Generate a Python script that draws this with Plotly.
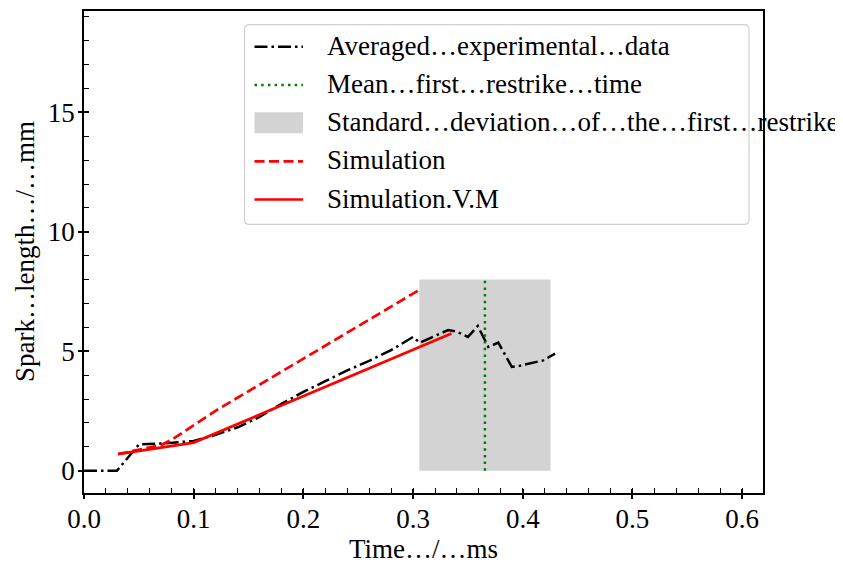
import plotly.graph_objects as go

# ---------------- data ----------------
exp_t = [0.0, 0.03, 0.05, 0.075, 0.1, 0.12, 0.14, 0.16, 0.18, 0.2, 0.22, 0.24,
         0.26, 0.28, 0.30, 0.306, 0.332, 0.34, 0.35, 0.359, 0.3686, 0.3777,
         0.39, 0.397, 0.4187, 0.4294]
exp_len = [0.0, 0.0, 1.1, 1.15, 1.25, 1.5, 1.82, 2.25, 2.8, 3.3, 3.75, 4.2,
           4.6, 5.05, 5.6, 5.36, 5.89, 5.82, 5.6, 6.06, 5.18, 5.36,
           4.35, 4.39, 4.62, 4.9]

sim_t = [0.031, 0.07, 0.08, 0.1225, 0.305]
sim_len = [0.70, 1.07, 1.30, 2.58, 7.55]

simvm_t = [0.031, 0.06, 0.1, 0.335]
simvm_len = [0.70, 0.90, 1.18, 5.74]

restrike_mean = 0.3655
restrike_std = 0.0598
band_top = 8.0

legend_labels = ["Averaged…experimental…data", "Mean…first…restrike…time",
                 "Standard…deviation…of…the…first…restrike", "Simulation",
                 "Simulation.V.M"]
x_ticks = [0.0, 0.1, 0.2, 0.3, 0.4, 0.5, 0.6]
y_ticks = [0, 5, 10, 15]
x_title = "Time…/…ms"
y_title = "Spark…length…/…mm"

# ---------------- layout geometry ----------------
W, H = 843, 563
OFF = 8  # page body margin offset
L, R, T, B = 84, 763, 9, 493   # plot area in screen pixels
FONT = "Liberation Serif, Times New Roman, serif"
FS = 27


def px(x):
    return (x - L) / (R - L)


def py(y):
    return (B - y) / (B - T)


fig = go.Figure()

lo = restrike_mean - restrike_std
hi = restrike_mean + restrike_std
fig.add_trace(go.Scatter(x=[lo, hi, hi, lo, lo], y=[0, 0, band_top, band_top, 0],
                         fill="toself", fillcolor="#d3d3d3", mode="lines",
                         line=dict(width=0, color="#d3d3d3"), hoverinfo="skip",
                         showlegend=False))
fig.add_trace(go.Scatter(x=exp_t, y=exp_len, mode="lines",
                         line=dict(color="black", width=2.5, dash="13px,4px,2.5px,4px"),
                         showlegend=False))
fig.add_trace(go.Scatter(x=[restrike_mean, restrike_mean], y=[0, band_top], mode="lines",
                         line=dict(color="#008000", width=2.5, dash="2.5px,4.2px"),
                         showlegend=False))
fig.add_trace(go.Scatter(x=sim_t, y=sim_len, mode="lines",
                         line=dict(color="#ff0000", width=2.7, dash="10px,4.5px"),
                         showlegend=False))
fig.add_trace(go.Scatter(x=simvm_t, y=simvm_len, mode="lines",
                         line=dict(color="#ff0000", width=2.7),
                         showlegend=False))
# helper trace so overlay axes render
fig.add_trace(go.Scatter(x=[None], y=[None], xaxis="x2", yaxis="y2", showlegend=False,
                         hoverinfo="skip"))

xr = [0, 0.619]
yr = [-0.93, 19.24]
tickfont = dict(family=FONT, size=FS, color="black")

fig.update_layout(
    width=W, height=H,
    margin=dict(l=L - OFF, r=W - R + OFF, t=T - OFF, b=H - B + OFF, pad=0),
    paper_bgcolor="white", plot_bgcolor="white",
    showlegend=False,
    xaxis=dict(range=xr, tickvals=x_ticks, ticktext=[f"{v:.1f}" for v in x_ticks],
               ticks="inside", ticklen=4, tickwidth=2, tickcolor="black",
               ticklabelstandoff=1,
               showline=True, linecolor="black", linewidth=1.5, mirror=True,
               showgrid=False, zeroline=False, tickfont=tickfont,
               minor=dict(dtick=0.02, tick0=0, ticks="inside", ticklen=5, tickwidth=1,
                          tickcolor="black", showgrid=False)),
    yaxis=dict(range=yr, tickvals=y_ticks, ticktext=[str(v) for v in y_ticks],
               ticks="inside", ticklen=5, tickwidth=2, tickcolor="black",
               ticklabelstandoff=2,
               showline=True, linecolor="black", linewidth=1.5, mirror=True,
               showgrid=False, zeroline=False, tickfont=tickfont,
               minor=dict(dtick=1, tick0=0, ticks="inside", ticklen=5, tickwidth=1,
                          tickcolor="black", showgrid=False)),
    xaxis2=dict(range=xr, overlaying="x", anchor="y", side="bottom", tickvals=x_ticks,
                ticks="outside", ticklen=5, tickwidth=2, tickcolor="black",
                showticklabels=False, showline=False, showgrid=False, zeroline=False),
    yaxis2=dict(range=yr, overlaying="y", anchor="x", side="left", tickvals=y_ticks,
                ticks="outside", ticklen=5, tickwidth=2, tickcolor="black",
                showticklabels=False, showline=False, showgrid=False, zeroline=False),
)

# axis titles
fig.add_annotation(text=x_title, x=0.5, y=py(549), xref="paper", yref="paper",
                   showarrow=False, xanchor="center", yanchor="middle",
                   font=dict(family=FONT, size=FS, color="black"))
fig.add_annotation(text=y_title, x=px(25), y=py(251), xref="paper", yref="paper",
                   showarrow=False, xanchor="center", yanchor="middle", textangle=-90,
                   font=dict(family=FONT, size=FS, color="black"))

# legend box (rounded)
bx0, by0, bx1, by1, rr = 244.5, 22.7, 749, 223.3, 5


def P(x, y):
    return f"{px(x):.5f},{py(y):.5f}"


path = (f"M {P(bx0 + rr, by0)} L {P(bx1 - rr, by0)} Q {P(bx1, by0)} {P(bx1, by0 + rr)} "
        f"L {P(bx1, by1 - rr)} Q {P(bx1, by1)} {P(bx1 - rr, by1)} "
        f"L {P(bx0 + rr, by1)} Q {P(bx0, by1)} {P(bx0, by1 - rr)} "
        f"L {P(bx0, by0 + rr)} Q {P(bx0, by0)} {P(bx0 + rr, by0)} Z")
fig.add_shape(type="path", path=path, xref="paper", yref="paper",
              fillcolor="rgba(255,255,255,0.8)", line=dict(color="#d0d0d0", width=1.2),
              layer="above")

rows = [45, 83.3, 121.7, 160, 198.3]
sx0, sx1, tx = 254.5, 303, 325
styles = [
    dict(color="black", width=2.5, dash="13px,4px,2.5px,4px"),
    dict(color="#008000", width=2.5, dash="2.5px,4.2px"),
    None,
    dict(color="#ff0000", width=2.7, dash="10px,4.5px"),
    dict(color="#ff0000", width=2.7),
]
for ry, st, lab in zip(rows, styles, legend_labels):
    if st is None:
        fig.add_shape(type="rect", xref="paper", yref="paper",
                      x0=px(sx0), x1=px(sx1), y0=py(ry - 11), y1=py(ry + 10),
                      fillcolor="#d3d3d3", line=dict(width=0), layer="above")
    else:
        fig.add_shape(type="line", xref="paper", yref="paper",
                      x0=px(sx0), x1=px(sx1), y0=py(ry), y1=py(ry),
                      line=st, layer="above")
    fig.add_annotation(text=lab, x=px(tx), y=py(ry - 1), xref="paper", yref="paper",
                       showarrow=False, xanchor="left", yanchor="middle",
                       font=dict(family=FONT, size=FS, color="black"))

fig.write_html("out.html")
